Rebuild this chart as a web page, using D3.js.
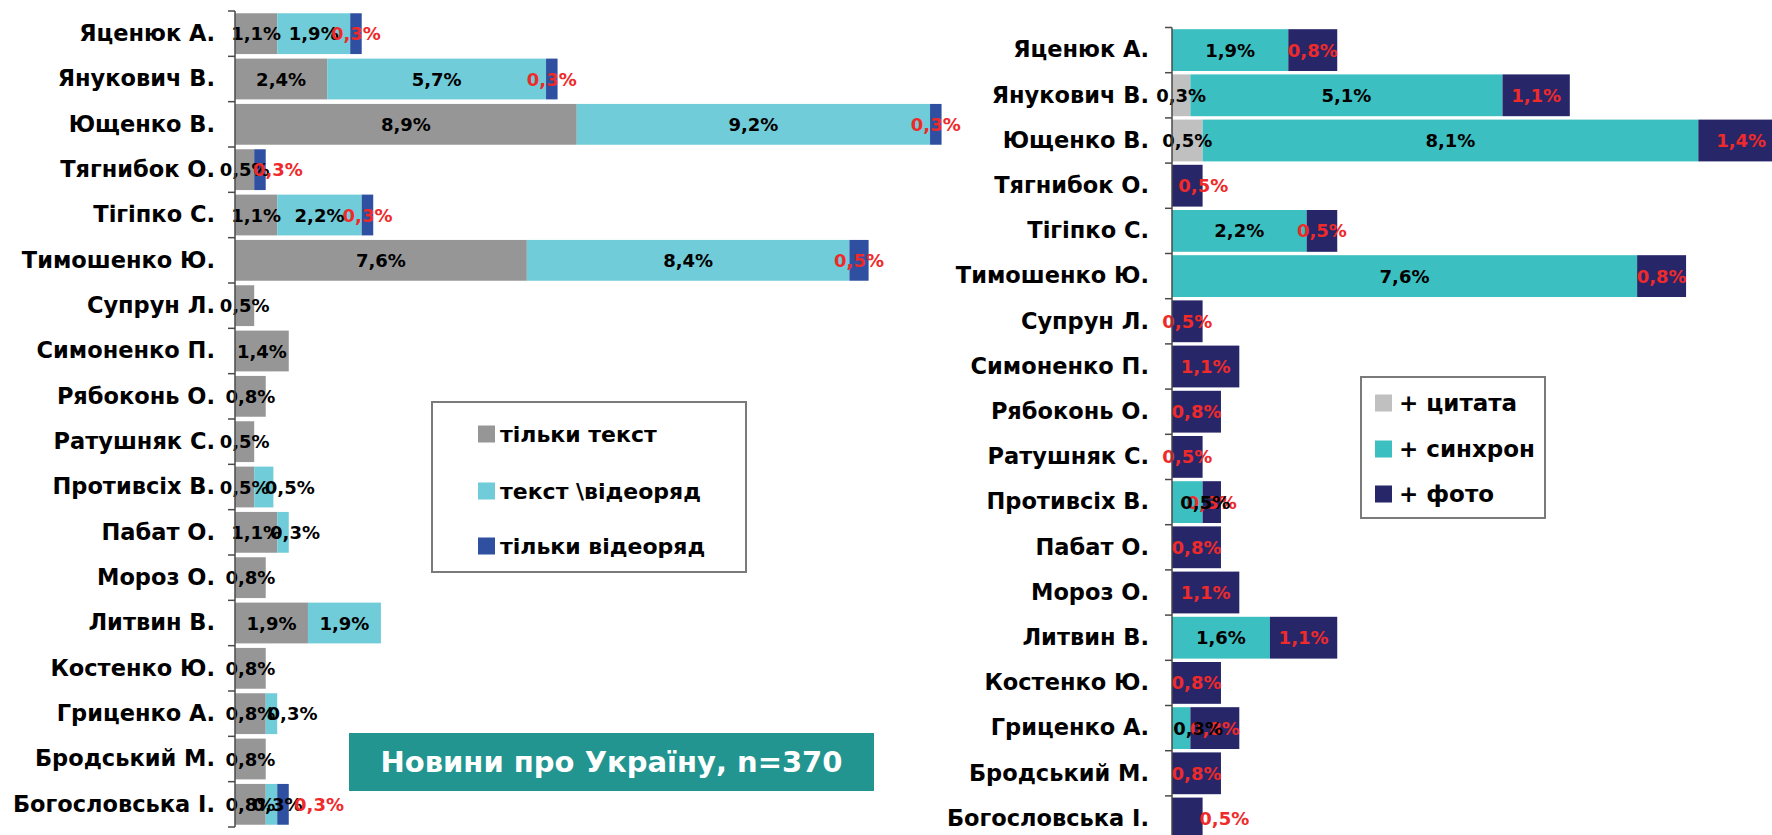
<!DOCTYPE html>
<html><head><meta charset="utf-8">
<script src="https://cdn.jsdelivr.net/npm/d3@7"></script>
<style>
html,body{margin:0;padding:0;background:#fff;}
svg{display:block;font-family:'DejaVu Sans',Verdana,sans-serif;}
</style></head>
<body>
<svg id="chart" width="1772" height="835"></svg>
<script>
// ---------- data ----------
const categories = ["Яценюк А.","Янукович В.","Ющенко В.","Тягнибок О.","Тігіпко С.","Тимошенко Ю.","Супрун Л.","Симоненко П.","Рябоконь О.","Ратушняк С.","Противсіх В.","Пабат О.","Мороз О.","Литвин В.","Костенко Ю.","Гриценко А.","Бродський М.","Богословська І."];

// left chart
const leftSeriesNames = ["тільки текст","текст \\відеоряд","тільки відеоряд"];
const textOnly  = [1.1,2.4,8.9,0.5,1.1,7.6,0.5,1.4,0.8,0.5,0.5,1.1,0.8,1.9,0.8,0.8,0.8,0.8];
const textVideo = [1.9,5.7,9.2,0,2.2,8.4,0,0,0,0,0.5,0.3,0,1.9,0,0.3,0,0.3];
const videoOnly = [0.3,0.3,0.3,0.3,0.3,0.5,0,0,0,0,0,0,0,0,0,0,0,0.3];

// right chart
const rightSeriesNames = ["+ цитата","+ синхрон","+ фото"];
const quote = [0,0.3,0.5,0,0,0,0,0,0,0,0,0,0,0,0,0,0,0];
const sync  = [1.9,5.1,8.1,0,2.2,7.6,0,0,0,0,0.5,0,0,1.6,0,0.3,0,0];
const photo = [0.8,1.1,1.4,0.5,0.5,0.8,0.5,1.1,0.8,0.5,0.3,0.8,1.1,1.1,0.8,0.8,0.8,0.5];

const titleText = "Новини про Україну, n=370";

// ---------- styling ----------
const leftColors  = ["#969696","#70CCD8","#2F4FA1"];
const rightColors = ["#C0C0C0","#3CBFC0","#262669"];
const labelColors = ["#000","#000","#EE2A2A"];
// manual label shifts (px) seen in the original
const leftNudge  = {"Тягнибок О.|2":18,"Противсіх В.|1":26,"Пабат О.|1":12,"Гриценко А.|1":21,"Богословська І.|1":6,"Богословська І.|2":36};
const rightNudge = {"Тягнибок О.|2":16,"Противсіх В.|1":18,"Гриценко А.|1":17,"Богословська І.|2":37};

const svg = d3.select("#chart");
const fmt = v => d3.format(".1f")(v).replace(".", ",") + "%";

function drawChart(cfg){
  const keys = [0,1,2];
  const rows = categories.map((c,i)=>({cat:c, 0:cfg.series[0][i], 1:cfg.series[1][i], 2:cfg.series[2][i]}));
  const stacked = d3.stack().keys(keys)(rows);

  const y = d3.scaleBand().domain(categories).range([cfg.top, cfg.bottom]).paddingInner(cfg.pad).paddingOuter(cfg.pad/2);
  const x = d3.scaleLinear().domain(cfg.xDomain).range([cfg.x0, cfg.x1]);
  const g = svg.append("g");

  // bars
  stacked.forEach((layer,k)=>{
    g.append("g").selectAll("rect").data(layer.filter(d=>d[1]-d[0]>0)).join("rect")
      .attr("x", d=>x(d[0])).attr("width", d=>x(d[1])-x(d[0]))
      .attr("y", d=>y(d.data.cat)).attr("height", y.bandwidth())
      .attr("fill", cfg.colors[k]);
  });
  // labels
  const order = cfg.labelsReversed ? [2,1,0] : [0,1,2];
  order.forEach(k=>{
    const layer = stacked[k];
    g.append("g").selectAll("text").data(layer.filter(d=>d[1]-d[0]>0)).join("text")
      .attr("x", d=>(x(d[0])+x(d[1]))/2 + (cfg.nudge[d.data.cat+"|"+k]||0))
      .attr("y", d=>y(d.data.cat)+y.bandwidth()/2)
      .attr("text-anchor","middle").attr("dominant-baseline","central")
      .attr("font-size",18).attr("font-weight","bold")
      .attr("fill", labelColors[k])
      .text(d=>fmt(d.data[k]));
  });

  // axis with category labels
  const ax = g.append("g").attr("transform",`translate(${cfg.x0},0)`)
    .call(d3.axisLeft(y).tickSize(0).tickPadding(cfg.labelGap));
  ax.select(".domain").remove();
  ax.selectAll("text").attr("font-size",22.5).attr("font-weight","bold").attr("fill","#000")
    .attr("font-family","'DejaVu Sans',Verdana,sans-serif");
  // axis line and boundary ticks
  const step = y.step();
  const bounds = d3.range(categories.length+1).map(i=>cfg.top + i*step);
  g.append("line").attr("x1",cfg.x0).attr("x2",cfg.x0).attr("y1",cfg.top).attr("y2",cfg.bottom)
    .attr("stroke","#4a4a4a").attr("stroke-width",1.5);
  g.append("g").selectAll("line").data(bounds).join("line")
    .attr("x1",cfg.x0-7).attr("x2",cfg.x0).attr("y1",d=>d).attr("y2",d=>d)
    .attr("stroke","#4a4a4a").attr("stroke-width",1.5);

  // legend
  const L = cfg.legend;
  const lg = svg.append("g");
  lg.append("rect").attr("x",L.x).attr("y",L.y).attr("width",L.w).attr("height",L.h)
    .attr("fill","#fff").attr("stroke","#7a7a7a").attr("stroke-width",2);
  cfg.names.forEach((n,k)=>{
    const cy = L.rowY[k];
    lg.append("rect").attr("x",L.sx).attr("y",cy-8.5).attr("width",17).attr("height",17).attr("fill",cfg.colors[k]);
    lg.append("text").attr("x",L.tx).attr("y",cy).attr("dominant-baseline","central")
      .attr("font-size",L.fs).attr("font-weight","bold").attr("fill","#000").text(n);
  });
}

drawChart({
  series:[textOnly,textVideo,videoOnly], colors:leftColors, names:leftSeriesNames,
  top:11, bottom:827, pad:0.1, xDomain:[0,20], x0:235, x1:235+768, labelGap:20,
  nudge:leftNudge, labelsReversed:false,
  legend:{x:432,y:402,w:314,h:170,sx:478,tx:500,rowY:[434,491,546],fs:22}
});

drawChart({
  series:[quote,sync,photo], colors:rightColors, names:rightSeriesNames,
  top:27.5, bottom:27.5+18*45.2, pad:0.075, xDomain:[0,10], x0:1172, x1:1172+612, labelGap:23,
  nudge:rightNudge, labelsReversed:true,
  legend:{x:1361,y:377,w:184,h:141,sx:1375,tx:1399,rowY:[403,449,494],fs:23}
});

// title box
const tg = svg.append("g");
tg.append("rect").attr("x",349).attr("y",733).attr("width",525).attr("height",58).attr("fill","#229590");
tg.append("text").attr("x",349+525/2).attr("y",733+29).attr("text-anchor","middle").attr("dominant-baseline","central")
  .attr("font-size",29).attr("font-weight","bold").attr("fill","#fff").text(titleText);
</script>
</body></html>
